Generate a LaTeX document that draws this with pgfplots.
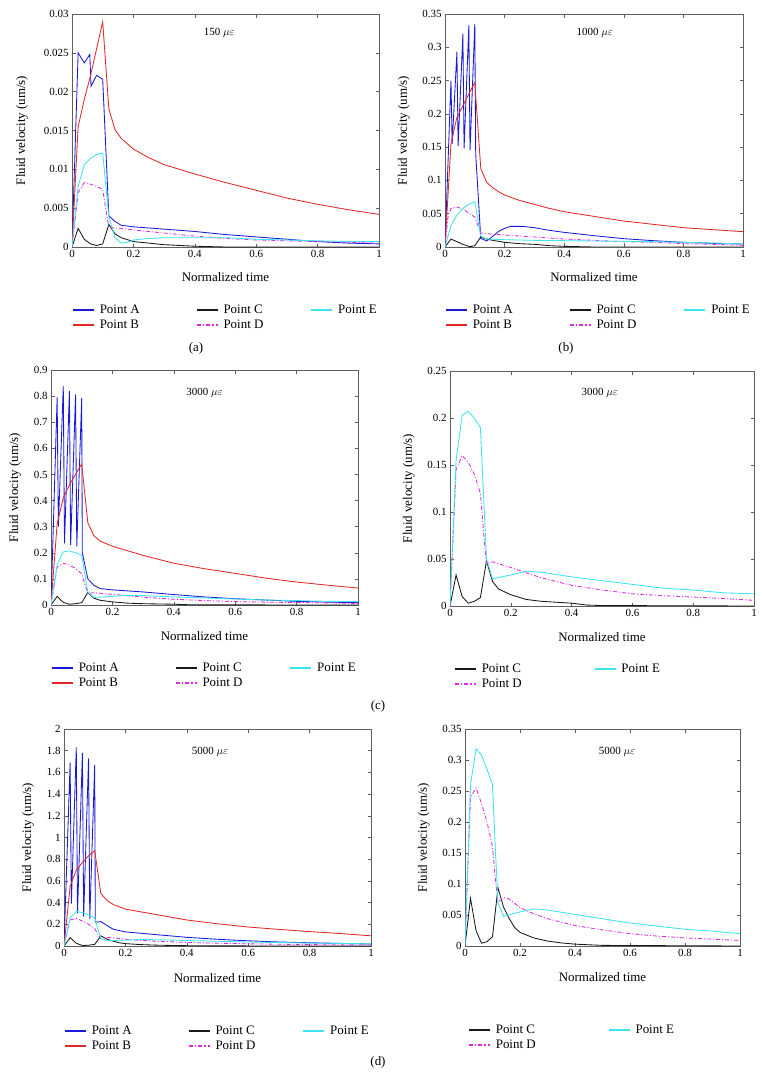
\documentclass[border=0pt]{standalone}
\usepackage{pgfplots}
\usepackage{pgfplotstable}
\pgfplotsset{compat=1.18}
\usepackage{fontspec}
\setmainfont{Liberation Serif}

\definecolor{cA}{RGB}{25,25,215}
\definecolor{cB}{RGB}{228,40,40}
\definecolor{cC}{RGB}{25,25,25}
\definecolor{cD}{RGB}{225,40,225}
\definecolor{cE}{RGB}{60,228,238}
\definecolor{axgray}{RGB}{95,95,95}

% ---------- panel (a) 150 ----------
\pgfplotstableread{
x y
0 0
0.02 0.025
0.04 0.0237
0.058 0.0248
0.062 0.0207
0.08 0.0221
0.1 0.0216
0.12 0.004
0.14 0.0033
0.16 0.0028
0.2 0.0026
0.3 0.0023
0.4 0.002
0.5 0.0016
0.6 0.0013
0.7 0.001
0.8 0.0007
0.9 0.0005
1 0.0004
}\aA
\pgfplotstableread{
x y
0 0
0.02 0.0155
0.04 0.019
0.06 0.022
0.08 0.0255
0.1 0.029
0.12 0.0178
0.14 0.0151
0.16 0.014
0.2 0.0126
0.25 0.0115
0.3 0.0106
0.4 0.0094
0.5 0.0083
0.6 0.0073
0.7 0.0063
0.8 0.0055
0.9 0.0048
1 0.0042
}\aB
\pgfplotstableread{
x y
0 0
0.02 0.0024
0.04 0.001
0.06 0.0004
0.08 0.0002
0.1 0.0004
0.12 0.0029
0.14 0.0017
0.16 0.0012
0.2 0.0007
0.3 0.0003
0.4 0.0001
0.5 0
1 0
}\aC
\pgfplotstableread{
x y
0 0
0.02 0.007
0.04 0.0083
0.06 0.0081
0.08 0.0078
0.1 0.0074
0.12 0.0025
0.16 0.0024
0.2 0.0022
0.3 0.0018
0.4 0.0014
0.5 0.0011
0.6 0.0009
0.7 0.0008
0.8 0.0007
0.9 0.0006
1 0.0005
}\aD
\pgfplotstableread{
x y
0 0
0.02 0.0078
0.04 0.0106
0.06 0.0114
0.08 0.0119
0.1 0.0121
0.12 0.0039
0.14 0.0012
0.16 0.0005
0.18 0.0006
0.2 0.0009
0.25 0.0011
0.3 0.0012
0.4 0.0012
0.5 0.0012
0.6 0.001
0.7 0.0009
0.8 0.0008
0.9 0.0007
1 0.0007
}\aE

% ---------- panel (b) 1000 ----------
\pgfplotstableread{
x y
0 0
0.02 0.25
0.024 0.155
0.04 0.293
0.044 0.152
0.06 0.32
0.064 0.148
0.08 0.333
0.084 0.145
0.1 0.335
0.103 0.14
0.12 0.013
0.14 0.009
0.16 0.016
0.18 0.0235
0.2 0.028
0.22 0.031
0.26 0.031
0.3 0.029
0.35 0.025
0.4 0.022
0.5 0.017
0.6 0.0125
0.7 0.0095
0.8 0.007
0.9 0.0055
1 0.0045
}\bA
\pgfplotstableread{
x y
0 0
0.02 0.155
0.04 0.195
0.06 0.212
0.08 0.23
0.1 0.247
0.12 0.118
0.14 0.097
0.16 0.089
0.18 0.083
0.2 0.078
0.25 0.07
0.3 0.064
0.35 0.058
0.4 0.053
0.5 0.046
0.6 0.039
0.7 0.034
0.8 0.029
0.9 0.026
1 0.023
}\bB
\pgfplotstableread{
x y
0 0
0.02 0.012
0.04 0.008
0.06 0.004
0.08 0.001
0.09 0.001
0.1 0.002
0.12 0.015
0.14 0.012
0.16 0.01
0.2 0.007
0.25 0.005
0.3 0.004
0.35 0.002
0.4 0.001
0.5 0
1 0
}\bC
\pgfplotstableread{
x y
0 0
0.01 0.045
0.02 0.058
0.04 0.06
0.06 0.057
0.08 0.051
0.1 0.045
0.12 0.021
0.14 0.02
0.2 0.018
0.3 0.015
0.4 0.012
0.5 0.01
0.6 0.008
0.7 0.007
0.8 0.005
0.9 0.004
1 0.0025
}\bD
\pgfplotstableread{
x y
0 0
0.02 0.032
0.04 0.048
0.06 0.058
0.08 0.064
0.1 0.068
0.12 0.016
0.14 0.012
0.2 0.011
0.3 0.01
0.4 0.0095
0.5 0.009
0.6 0.0085
0.7 0.008
0.8 0.007
0.9 0.006
1 0.0045
}\bE

% ---------- panel (c) 3000 ----------
\pgfplotstableread{
x y
0 0
0.02 0.795
0.024 0.3
0.04 0.838
0.044 0.236
0.06 0.82
0.064 0.23
0.08 0.807
0.084 0.224
0.1 0.793
0.102 0.2
0.12 0.1
0.14 0.075
0.16 0.063
0.2 0.058
0.3 0.05
0.4 0.04
0.5 0.031
0.6 0.024
0.7 0.019
0.8 0.014
0.9 0.011
1 0.009
}\cA
\pgfplotstableread{
x y
0 0
0.02 0.31
0.04 0.41
0.06 0.46
0.08 0.5
0.1 0.54
0.12 0.315
0.14 0.265
0.16 0.245
0.2 0.225
0.3 0.19
0.4 0.16
0.5 0.139
0.6 0.121
0.7 0.103
0.8 0.088
0.9 0.076
1 0.065
}\cB
\pgfplotstableread{
x y
0 0
0.02 0.033
0.04 0.01
0.06 0.003
0.08 0.005
0.1 0.009
0.12 0.048
0.14 0.026
0.16 0.018
0.2 0.012
0.25 0.007
0.3 0.005
0.35 0.004
0.4 0.003
0.45 0.001
0.5 0.0005
1 0
}\cC
\pgfplotstableread{
x y
0 0
0.02 0.145
0.04 0.16
0.06 0.153
0.08 0.14
0.1 0.12
0.11 0.08
0.12 0.045
0.14 0.047
0.2 0.041
0.3 0.03
0.4 0.022
0.5 0.017
0.6 0.013
0.7 0.011
0.8 0.0095
0.9 0.008
1 0.006
}\cD
\pgfplotstableread{
x y
0 0
0.02 0.155
0.04 0.203
0.06 0.207
0.08 0.2
0.1 0.19
0.12 0.05
0.14 0.029
0.2 0.033
0.25 0.037
0.3 0.036
0.4 0.031
0.5 0.027
0.6 0.023
0.7 0.019
0.8 0.017
0.9 0.014
1 0.013
}\cE

% ---------- panel (d) 5000 ----------
\pgfplotstableread{
x y
0 0
0.02 1.69
0.024 0.39
0.04 1.83
0.044 0.3
0.06 1.78
0.064 0.27
0.08 1.73
0.084 0.25
0.1 1.67
0.102 0.22
0.12 0.225
0.14 0.19
0.16 0.155
0.2 0.13
0.3 0.105
0.4 0.08
0.5 0.062
0.6 0.048
0.7 0.037
0.8 0.03
0.9 0.024
1 0.018
}\dA
\pgfplotstableread{
x y
0 0
0.02 0.55
0.04 0.7
0.06 0.77
0.08 0.83
0.1 0.88
0.12 0.485
0.14 0.42
0.16 0.383
0.2 0.34
0.3 0.29
0.4 0.24
0.5 0.205
0.6 0.175
0.7 0.153
0.8 0.133
0.9 0.115
1 0.094
}\dB
\pgfplotstableread{
x y
0 0
0.02 0.077
0.04 0.025
0.06 0.0045
0.08 0.007
0.1 0.015
0.12 0.094
0.14 0.063
0.16 0.045
0.18 0.03
0.2 0.022
0.25 0.013
0.3 0.008
0.35 0.005
0.4 0.003
0.5 0.001
1 0
}\dC
\pgfplotstableread{
x y
0 0
0.02 0.24
0.04 0.255
0.06 0.23
0.08 0.2
0.1 0.16
0.11 0.11
0.12 0.07
0.14 0.078
0.16 0.076
0.2 0.062
0.25 0.052
0.3 0.044
0.4 0.033
0.5 0.026
0.6 0.02
0.7 0.016
0.8 0.013
0.9 0.011
1 0.009
}\dD
\pgfplotstableread{
x y
0 0
0.02 0.26
0.04 0.318
0.06 0.308
0.08 0.285
0.1 0.26
0.11 0.16
0.12 0.07
0.14 0.048
0.2 0.055
0.25 0.06
0.3 0.058
0.4 0.051
0.5 0.044
0.6 0.037
0.7 0.032
0.8 0.027
0.9 0.024
1 0.02
}\dE

\pgfplotsset{
  base/.style={
    scale only axis, anchor=north west,
    xmin=0, xmax=1, ymin=0,
    xtick={0,0.2,0.4,0.6,0.8,1},
    scaled ticks=false,
    tick align=inside, major tick length=3.5bp,
    axis line style={draw=axgray, line width=0.6bp},
    every tick/.style={draw=axgray, line width=0.5bp},
    /pgf/number format/assume math mode=true,
    /pgf/number format/fixed, /pgf/number format/precision=3,
    tick label style={font=\fontsize{11}{13}\selectfont},
    xlabel={Normalized time}, ylabel={Fluid velocity (um/s)},
    label style={font=\fontsize{13}{15}\selectfont},
    legend style={draw=none, fill=none, font=\fontsize{13}{15}\selectfont,
      anchor=north west, inner sep=0pt, outer sep=0pt, row sep=1.2bp,
      /tikz/column 1/.style={column sep=3bp},
      /tikz/column 3/.style={column sep=3bp},
      /tikz/column 5/.style={column sep=3bp}},
    legend cell align=left,
    legend image code/.code={\draw[line width=1.8bp, ##1] (0bp,0bp) -- (21bp,0bp);},
    every axis plot/.append style={line width=0.85bp, forget plot},
  },
  five/.style={legend columns=3,
    legend style={/tikz/column 2/.style={column sep=54bp}, /tikz/column 4/.style={column sep=45bp}}},
  three/.style={legend columns=2,
    legend style={/tikz/column 2/.style={column sep=70bp}}},
  sA/.style={draw=cA, color=cA, solid},
  sB/.style={draw=cB, color=cB, solid},
  sC/.style={draw=cC, color=cC, solid},
  sD/.style={draw=cD, color=cD, dash pattern=on 4bp off 2bp on 1bp off 2bp},
  sE/.style={draw=cE, color=cE, solid},
  lA/.style={draw=cA, solid},
  lB/.style={draw=cB, solid},
  lC/.style={draw=cC, solid},
  lD/.style={draw=cD, dash pattern=on 4bp off 2bp on 1.5bp off 2bp},
  lE/.style={draw=cE, solid},
}
\tikzset{ttl/.style={font=\fontsize{11}{13}\selectfont},
  capt/.style={font=\fontsize{13}{15}\selectfont}}

\newcommand\legfive{%
\addlegendimage{lA}\addlegendentry{Point A}
\addlegendimage{lC}\addlegendentry{Point C}
\addlegendimage{lE}\addlegendentry{Point E}
\addlegendimage{lB}\addlegendentry{Point B}
\addlegendimage{lD}\addlegendentry{Point D}}
\newcommand\legthree{%
\addlegendimage{lC}\addlegendentry{Point C}
\addlegendimage{lE}\addlegendentry{Point E}
\addlegendimage{lD}\addlegendentry{Point D}}

\begin{document}
\begin{tikzpicture}
\useasboundingbox (0,0) rectangle (764bp,-1074bp);

% (a)
\begin{axis}[base, five, at={(72bp,-14bp)}, width=307bp, height=233bp,
  ymax=0.03, ytick={0,0.005,0.01,0.015,0.02,0.025,0.03},
  ylabel style={at={(axis description cs:-0.163,0.5)}, anchor=center},
  xlabel style={at={(axis description cs:0.5,-0.129)}, anchor=center},
  legend style={at={(0,-0.24)}}]
\addplot[sA] table {\aA};
\addplot[sB] table {\aB};
\addplot[sC] table {\aC};
\addplot[sD] table {\aD};
\addplot[sE] table {\aE};
\legfive
\node[ttl] at (axis description cs:0.48,0.918) {150 $\mu\varepsilon$};
\end{axis}

% (b)
\begin{axis}[base, five, at={(445bp,-14bp)}, width=298bp, height=233bp,
  ymax=0.35, ytick={0,0.05,0.1,0.15,0.2,0.25,0.3,0.35},
  ylabel style={at={(axis description cs:-0.138,0.5)}, anchor=center},
  xlabel style={at={(axis description cs:0.5,-0.129)}, anchor=center},
  legend style={at={(0,-0.24)}}]
\addplot[sA] table {\bA};
\addplot[sB] table {\bB};
\addplot[sC] table {\bC};
\addplot[sD] table {\bD};
\addplot[sE] table {\bE};
\legfive
\node[ttl] at (axis description cs:0.503,0.92) {1000 $\mu\varepsilon$};
\end{axis}

% (c) left
\begin{axis}[base, five, at={(51bp,-370bp)}, width=307bp, height=235bp,
  ymax=0.9, ytick={0,0.1,0.2,0.3,0.4,0.5,0.6,0.7,0.8,0.9},
  ylabel style={at={(axis description cs:-0.117,0.5)}, anchor=center},
  xlabel style={at={(axis description cs:0.5,-0.132)}, anchor=center},
  legend style={at={(0,-0.238)}}]
\addplot[sA] table {\cA};
\addplot[sB] table {\cB};
\addplot[sC] table {\cC};
\addplot[sD] table {\cD};
\addplot[sE] table {\cE};
\legfive
\node[ttl] at (axis description cs:0.5,0.902) {3000 $\mu\varepsilon$};
\end{axis}

% (c) right
\begin{axis}[base, three, at={(450bp,-371bp)}, width=304bp, height=235bp,
  ymax=0.25, ytick={0,0.05,0.1,0.15,0.2,0.25},
  ylabel style={at={(axis description cs:-0.136,0.5)}, anchor=center},
  xlabel style={at={(axis description cs:0.5,-0.132)}, anchor=center},
  legend style={at={(0.013,-0.238)}}]
\addplot[sC] table {\cC};
\addplot[sD] table {\cD};
\addplot[sE] table {\cE};
\legthree
\node[ttl] at (axis description cs:0.493,0.906) {3000 $\mu\varepsilon$};
\end{axis}

% (d) left
\begin{axis}[base, five, at={(64bp,-729bp)}, width=307bp, height=217bp,
  ymax=2, ytick={0,0.2,0.4,0.6,0.8,1,1.2,1.4,1.6,1.8,2},
  ylabel style={at={(axis description cs:-0.117,0.5)}, anchor=center},
  xlabel style={at={(axis description cs:0.5,-0.148)}, anchor=center},
  legend style={at={(0,-0.359)}}]
\addplot[sA] table {\dA};
\addplot[sB] table {\dB};
\addplot[sC] table {\dC};
\addplot[sD] table {\dD};
\addplot[sE] table {\dE};
\legfive
\node[ttl] at (axis description cs:0.476,0.894) {5000 $\mu\varepsilon$};
\end{axis}

% (d) right
\begin{axis}[base, three, at={(465bp,-729bp)}, width=275bp, height=217bp,
  ymax=0.35, ytick={0,0.05,0.1,0.15,0.2,0.25,0.3,0.35},
  ylabel style={at={(axis description cs:-0.15,0.5)}, anchor=center},
  xlabel style={at={(axis description cs:0.5,-0.143)}, anchor=center},
  legend style={at={(0.011,-0.355)}}]
\addplot[sC] table {\dC};
\addplot[sD] table {\dD};
\addplot[sE] table {\dE};
\legthree
\node[ttl] at (axis description cs:0.553,0.894) {5000 $\mu\varepsilon$};
\end{axis}

\node[capt] at (196bp,-348bp) {(a)};
\node[capt] at (566bp,-348bp) {(b)};
\node[capt] at (378bp,-706bp) {(c)};
\node[capt] at (378bp,-1062bp) {(d)};
\end{tikzpicture}
\end{document}
